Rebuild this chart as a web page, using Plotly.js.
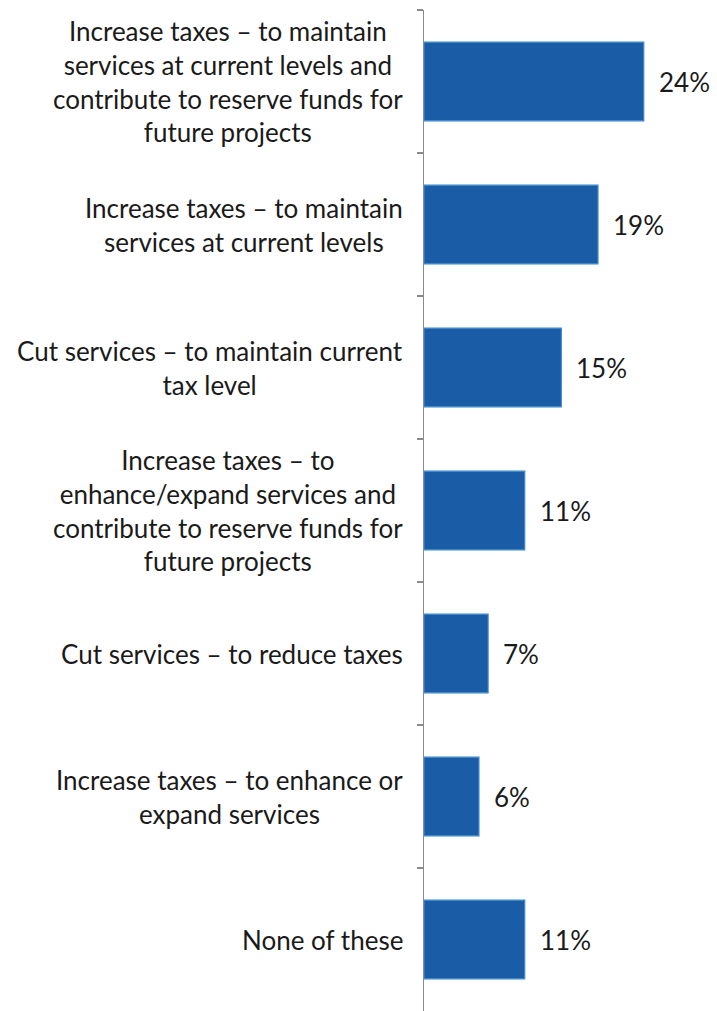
<!DOCTYPE html>
<html>
<head>
<meta charset="utf-8">
<script src="https://cdn.plot.ly/plotly-3.0.1.min.js"></script>
<style>html,body{margin:0;padding:0;background:#fff;}#chart{width:717px;height:1011px;}</style>
</head>
<body>
<div id="chart"></div>
<script>
const categories = [
  "Increase taxes – to maintain<br>services at current levels and<br>contribute to reserve funds for<br>future projects",
  "Increase taxes – to maintain<br>services at current levels",
  "Cut services – to maintain current<br>tax level",
  "Increase taxes – to<br>enhance/expand services and<br>contribute to reserve funds for<br>future projects",
  "Cut services – to reduce taxes",
  "Increase taxes – to enhance or<br>expand services",
  "None of these"
];
const values = [24, 19, 15, 11, 7, 6, 11];
const valueLabels = values.map(v => v + "%");

const FONT = "Lato, 'Open Sans', sans-serif";

const annotations = [];
categories.forEach((c, i) => {
  annotations.push({
    xref: "paper", yref: "y", x: -0.065, y: c,
    text: c, showarrow: false, xanchor: "right", yanchor: "middle",
    align: "center", font: {family: FONT, size: 26, color: "#1a1a1a"}
  });
  annotations.push({
    xref: "x", yref: "y", x: values[i], y: c,
    text: valueLabels[i], showarrow: false, xanchor: "left", yanchor: "middle",
    xshift: 13, font: {family: FONT, size: 26, color: "#1a1a1a"}
  });
});

const trace = {
  type: "bar", orientation: "h",
  x: values, y: categories,
  width: 0.55,
  marker: {color: "#1a5ca6", line: {color: "#3d87c9", width: 1.2}},
  hoverinfo: "none"
};

const layout = {
  width: 717, height: 1011,
  margin: {l: 424, r: 0, t: 10, b: 0},
  paper_bgcolor: "#fff", plot_bgcolor: "#fff",
  showlegend: false,
  bargap: 0.45,
  xaxis: {range: [0, 32], visible: false, fixedrange: true},
  yaxis: {
    type: "category", autorange: "reversed",
    showticklabels: false, showgrid: false, zeroline: false,
    showline: true, linecolor: "#8a8a8a", linewidth: 1.5,
    ticks: "outside", tickson: "boundaries", ticklen: 6, tickcolor: "#8a8a8a", tickwidth: 1.2
  },
  annotations: annotations
};

Plotly.newPlot("chart", [trace], layout, {staticPlot: true, displayModeBar: false});
</script>
</body>
</html>
